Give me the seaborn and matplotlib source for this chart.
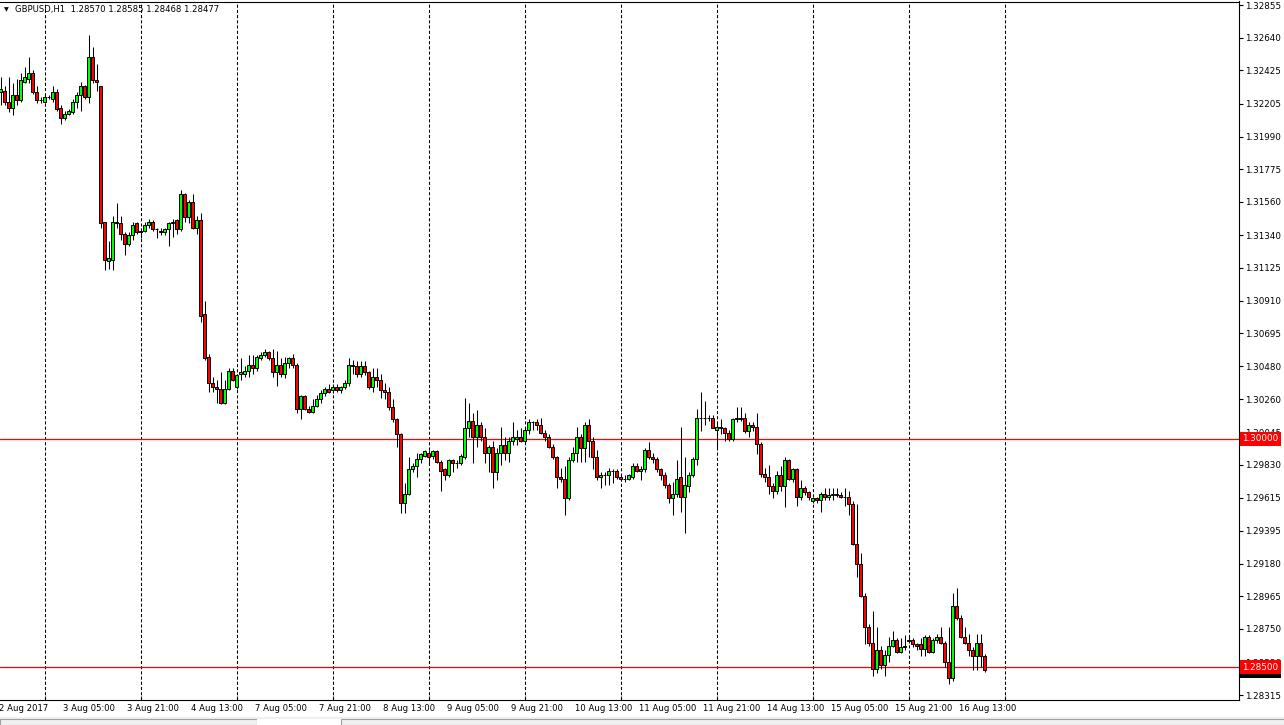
import numpy as np
import pandas as pd
import seaborn as sns
import matplotlib
matplotlib.use("Agg")
import matplotlib.pyplot as plt
from matplotlib.transforms import blended_transform_factory, offset_copy
from matplotlib.patches import Rectangle

sns.set_style("white")
plt.rcParams['font.family'] = ['DejaVu Sans']

# ---------------- data (GBPUSD H1, 2 Aug 13:00 -> 16 Aug 19:00) ----------------
opens = [
    1.3228, 1.3229, 1.3222, 1.3218, 1.3226, 1.3223, 1.3235, 1.3237, 1.3241, 1.3228,
    1.3223, 1.3222, 1.3225, 1.3224, 1.3228, 1.3218, 1.3211, 1.3214, 1.3215, 1.3222,
    1.3226, 1.3232, 1.3225, 1.3251, 1.3236, 1.3232, 1.3143, 1.3117, 1.3118, 1.3143,
    1.3142, 1.3135, 1.3128, 1.3134, 1.3142, 1.3136, 1.3137, 1.3141, 1.3143, 1.3138,
    1.3137, 1.3136, 1.3138, 1.3142, 1.3144, 1.3138, 1.3161, 1.3146, 1.3156, 1.3139,
    1.3144, 1.3082, 1.3054, 1.3037, 1.3034, 1.3033, 1.3024, 1.3033, 1.3045, 1.3034,
    1.3043, 1.3043, 1.3045, 1.3049, 1.3047, 1.3053, 1.3055, 1.3057, 1.3053, 1.3044,
    1.3049, 1.3043, 1.3050, 1.3053, 1.3049, 1.3020, 1.3028, 1.3020, 1.3018, 1.3022,
    1.3026, 1.3030, 1.3033, 1.3032, 1.3034, 1.3032, 1.3034, 1.3037, 1.3049, 1.3048,
    1.3043, 1.3048, 1.3044, 1.3034, 1.3041, 1.3039, 1.3032, 1.3031, 1.3021, 1.3013,
    1.3003, 1.2958, 1.2964, 1.2980, 1.2982, 1.2987, 1.2989, 1.2991, 1.2989, 1.2992,
    1.2985, 1.2980, 1.2976, 1.2986, 1.2984, 1.2984, 1.2988, 1.3007, 1.3012, 1.3001,
    1.3009, 1.3001, 1.2991, 1.2995, 1.2978, 1.2991, 1.2996, 1.2991, 1.2999, 1.3000,
    1.3001, 1.2999, 1.3006, 1.3011, 1.3011, 1.3009, 1.3004, 1.3001, 1.2995, 1.2988,
    1.2975, 1.2974, 1.2961, 1.2986, 1.2991, 1.3001, 1.2994, 1.3009, 1.2999, 1.2988,
    1.2975, 1.2976, 1.2976, 1.2979, 1.2979, 1.2975, 1.2974, 1.2974, 1.2975, 1.2982,
    1.2979, 1.2980, 1.2993, 1.2988, 1.2987, 1.2980, 1.2976, 1.2970, 1.2961, 1.2964,
    1.2975, 1.2962, 1.2969, 1.2976, 1.2987, 1.3014, 1.3014, 1.3014, 1.3014, 1.3006,
    1.3008, 1.3007, 1.3004, 1.3000, 1.3013, 1.3014, 1.3014, 1.3005, 1.3009, 1.3008,
    1.2997, 1.2977, 1.2975, 1.2969, 1.2966, 1.2976, 1.2969, 1.2986, 1.2974, 1.2980,
    1.2962, 1.2968, 1.2965, 1.2959, 1.2961, 1.2960, 1.2964, 1.2962, 1.2963, 1.2964,
    1.2963, 1.2962, 1.2962, 1.2957, 1.2931, 1.2918, 1.2897, 1.2876, 1.2866, 1.2849,
    1.2861, 1.2851, 1.2858, 1.2864, 1.2868, 1.2860, 1.2863, 1.2867, 1.2868, 1.2865,
    1.2865, 1.2862, 1.2870, 1.2860, 1.2868, 1.2870, 1.2866, 1.2853, 1.2843, 1.2890,
    1.2882, 1.2870, 1.2866, 1.2861, 1.2857, 1.2866, 1.28570,
]
highs = [
    1.3238, 1.3232, 1.3238, 1.3234, 1.3237, 1.3241, 1.3245, 1.3251, 1.3243, 1.3232,
    1.3225, 1.3226, 1.3226, 1.3232, 1.3230, 1.3220, 1.3216, 1.3217, 1.3224, 1.3228,
    1.3235, 1.3233, 1.3266, 1.3258, 1.3247, 1.3232, 1.3143, 1.3130, 1.3147, 1.3155,
    1.3147, 1.3136, 1.3136, 1.3143, 1.3143, 1.3139, 1.3143, 1.3145, 1.3144, 1.3139,
    1.3139, 1.3139, 1.3143, 1.3145, 1.3145, 1.3164, 1.3162, 1.3157, 1.3161, 1.3147,
    1.3149, 1.3091, 1.3056, 1.3041, 1.3039, 1.3044, 1.3039, 1.3047, 1.3047, 1.3043,
    1.3053, 1.3048, 1.3055, 1.3055, 1.3055, 1.3057, 1.3059, 1.3058, 1.3059, 1.3058,
    1.3053, 1.3054, 1.3054, 1.3056, 1.3050, 1.3029, 1.3029, 1.3022, 1.3026, 1.3029,
    1.3032, 1.3034, 1.3036, 1.3036, 1.3036, 1.3035, 1.3039, 1.3053, 1.3052, 1.3051,
    1.3051, 1.3051, 1.3045, 1.3047, 1.3047, 1.3043, 1.3037, 1.3034, 1.3026, 1.3014,
    1.3004, 1.2971, 1.2988, 1.2984, 1.2991, 1.2991, 1.2993, 1.2993, 1.2993, 1.2993,
    1.2986, 1.2981, 1.2987, 1.2987, 1.2986, 1.2990, 1.3027, 1.3024, 1.3017, 1.3019,
    1.3011, 1.3007, 1.2996, 1.2999, 1.2994, 1.3008, 1.3001, 1.3001, 1.3011, 1.3006,
    1.3007, 1.3008, 1.3013, 1.3012, 1.3013, 1.3014, 1.3006, 1.3003, 1.2997, 1.2989,
    1.2981, 1.2982, 1.2988, 1.2995, 1.3008, 1.3003, 1.3011, 1.3013, 1.3001, 1.2993,
    1.2978, 1.2978, 1.2981, 1.2980, 1.2980, 1.2976, 1.2976, 1.2977, 1.2984, 1.2984,
    1.2982, 1.2994, 1.2998, 1.2991, 1.2988, 1.2981, 1.2978, 1.2971, 1.2972, 1.2986,
    1.3008, 1.2988, 1.2978, 1.2988, 1.3020, 1.3031, 1.3025, 1.3016, 1.3016, 1.3011,
    1.3013, 1.3008, 1.3006, 1.3014, 1.3021, 1.3021, 1.3017, 1.3011, 1.3011, 1.3017,
    1.2998, 1.2981, 1.2983, 1.2971, 1.2979, 1.2982, 1.2988, 1.2987, 1.2981, 1.2981,
    1.2973, 1.2969, 1.2966, 1.2962, 1.2962, 1.2965, 1.2968, 1.2968, 1.2968, 1.2968,
    1.2965, 1.2968, 1.2966, 1.2959, 1.2957, 1.2925, 1.2899, 1.2878, 1.2887, 1.2876,
    1.2864, 1.2861, 1.2870, 1.2874, 1.2869, 1.2869, 1.2871, 1.2870, 1.2869, 1.2866,
    1.2869, 1.2871, 1.2871, 1.2869, 1.2872, 1.2876, 1.2867, 1.2876, 1.2899, 1.2902,
    1.2884, 1.2876, 1.2872, 1.2863, 1.2872, 1.2872, 1.28585,
]
lows = [
    1.3220, 1.3220, 1.3215, 1.3213, 1.3220, 1.3222, 1.3234, 1.3234, 1.3227, 1.3221,
    1.3221, 1.3221, 1.3224, 1.3222, 1.3216, 1.3207, 1.3210, 1.3213, 1.3214, 1.3218,
    1.3216, 1.3224, 1.3221, 1.3234, 1.3229, 1.3139, 1.3111, 1.3112, 1.3111, 1.3139,
    1.3131, 1.3121, 1.3127, 1.3131, 1.3135, 1.3132, 1.3136, 1.3139, 1.3137, 1.3132,
    1.3134, 1.3134, 1.3127, 1.3133, 1.3135, 1.3137, 1.3143, 1.3142, 1.3138, 1.3135,
    1.3077, 1.3052, 1.3031, 1.3031, 1.3024, 1.3023, 1.3023, 1.3032, 1.3038, 1.3033,
    1.3039, 1.3041, 1.3041, 1.3043, 1.3045, 1.3052, 1.3054, 1.3052, 1.3041, 1.3035,
    1.3041, 1.3040, 1.3047, 1.3047, 1.3017, 1.3013, 1.3019, 1.3017, 1.3017, 1.3021,
    1.3024, 1.3028, 1.3030, 1.3030, 1.3031, 1.3030, 1.3033, 1.3035, 1.3043, 1.3041,
    1.3041, 1.3042, 1.3033, 1.3031, 1.3034, 1.3027, 1.3026, 1.3019, 1.3011, 1.2995,
    1.2951, 1.2951, 1.2963, 1.2978, 1.2975, 1.2984, 1.2988, 1.2984, 1.2987, 1.2984,
    1.2966, 1.2973, 1.2975, 1.2978, 1.2981, 1.2983, 1.2987, 1.3001, 1.2984, 1.2995,
    1.2999, 1.2984, 1.2978, 1.2968, 1.2973, 1.2983, 1.2986, 1.2985, 1.2996, 1.2996,
    1.2998, 1.2997, 1.3003, 1.3006, 1.3006, 1.3003, 1.2999, 1.2994, 1.2987, 1.2968,
    1.2972, 1.2950, 1.2960, 1.2985, 1.2985, 1.2985, 1.2985, 1.2988, 1.2980, 1.2973,
    1.2968, 1.2970, 1.2970, 1.2971, 1.2974, 1.2973, 1.2972, 1.2973, 1.2974, 1.2978,
    1.2973, 1.2978, 1.2987, 1.2984, 1.2978, 1.2973, 1.2968, 1.2958, 1.2950, 1.2962,
    1.2952, 1.2938, 1.2965, 1.2975, 1.2983, 1.3005, 1.3009, 1.3012, 1.3007, 1.2994,
    1.3003, 1.2999, 1.2999, 1.2999, 1.3011, 1.3012, 1.3004, 1.3001, 1.3005, 1.2990,
    1.2975, 1.2972, 1.2964, 1.2961, 1.2964, 1.2966, 1.2955, 1.2973, 1.2972, 1.2956,
    1.2960, 1.2963, 1.2960, 1.2958, 1.2958, 1.2952, 1.2960, 1.2960, 1.2960, 1.2962,
    1.2961, 1.2956, 1.2950, 1.2930, 1.2909, 1.2896, 1.2865, 1.2864, 1.2844, 1.2846,
    1.2849, 1.2844, 1.2853, 1.2863, 1.2859, 1.2859, 1.2861, 1.2866, 1.2863, 1.2861,
    1.2857, 1.2857, 1.2859, 1.2859, 1.2866, 1.2865, 1.2850, 1.2839, 1.2841, 1.2881,
    1.2869, 1.2865, 1.2857, 1.2848, 1.2848, 1.2850, 1.28468,
]
closes = [
    1.3230, 1.3222, 1.3218, 1.3226, 1.3223, 1.3236, 1.3238, 1.3241, 1.3228, 1.3223,
    1.3223, 1.3225, 1.3225, 1.3228, 1.3217, 1.3211, 1.3214, 1.3216, 1.3222, 1.3226,
    1.3232, 1.3225, 1.3251, 1.3236, 1.3235, 1.3142, 1.3118, 1.3119, 1.3143, 1.3142,
    1.3135, 1.3128, 1.3134, 1.3141, 1.3136, 1.3137, 1.3141, 1.3143, 1.3138, 1.3138,
    1.3136, 1.3138, 1.3142, 1.3143, 1.3138, 1.3161, 1.3146, 1.3156, 1.3139, 1.3144,
    1.3081, 1.3053, 1.3037, 1.3034, 1.3033, 1.3024, 1.3033, 1.3045, 1.3039, 1.3042,
    1.3044, 1.3045, 1.3049, 1.3047, 1.3054, 1.3055, 1.3057, 1.3053, 1.3044, 1.3049,
    1.3043, 1.3050, 1.3053, 1.3049, 1.3020, 1.3028, 1.3020, 1.3018, 1.3022, 1.3026,
    1.3030, 1.3033, 1.3031, 1.3034, 1.3032, 1.3034, 1.3037, 1.3049, 1.3048, 1.3043,
    1.3048, 1.3044, 1.3034, 1.3041, 1.3039, 1.3032, 1.3031, 1.3021, 1.3013, 1.3003,
    1.2958, 1.2964, 1.2980, 1.2982, 1.2987, 1.2990, 1.2992, 1.2988, 1.2992, 1.2985,
    1.2979, 1.2976, 1.2986, 1.2984, 1.2984, 1.2989, 1.3007, 1.3012, 1.3001, 1.3009,
    1.3001, 1.2991, 1.2995, 1.2978, 1.2991, 1.2996, 1.2991, 1.2999, 1.3001, 1.3001,
    1.2999, 1.3006, 1.3011, 1.3011, 1.3009, 1.3004, 1.3001, 1.2995, 1.2988, 1.2975,
    1.2974, 1.2961, 1.2986, 1.2991, 1.3001, 1.2994, 1.3009, 1.2999, 1.2988, 1.2975,
    1.2976, 1.2976, 1.2979, 1.2979, 1.2975, 1.2974, 1.2974, 1.2976, 1.2982, 1.2979,
    1.2980, 1.2993, 1.2988, 1.2987, 1.2980, 1.2976, 1.2970, 1.2961, 1.2964, 1.2974,
    1.2962, 1.2970, 1.2976, 1.2987, 1.3014, 1.3014, 1.3014, 1.3014, 1.3007, 1.3008,
    1.3007, 1.3004, 1.3000, 1.3013, 1.3014, 1.3013, 1.3005, 1.3009, 1.3008, 1.2997,
    1.2977, 1.2975, 1.2969, 1.2966, 1.2976, 1.2969, 1.2986, 1.2974, 1.2980, 1.2962,
    1.2968, 1.2965, 1.2962, 1.2961, 1.2960, 1.2964, 1.2962, 1.2963, 1.2964, 1.2963,
    1.2962, 1.2962, 1.2957, 1.2931, 1.2918, 1.2897, 1.2876, 1.2866, 1.2849, 1.2861,
    1.2851, 1.2858, 1.2864, 1.2868, 1.2860, 1.2863, 1.2864, 1.2868, 1.2865, 1.2864,
    1.2862, 1.2870, 1.2860, 1.2868, 1.2870, 1.2866, 1.2853, 1.2843, 1.2890, 1.2882,
    1.2870, 1.2866, 1.2861, 1.2857, 1.2866, 1.2857, 1.28477,
]

time_labels = ["2 Aug 2017", "3 Aug 05:00", "3 Aug 21:00", "4 Aug 13:00",
               "7 Aug 05:00", "7 Aug 21:00", "8 Aug 13:00", "9 Aug 05:00",
               "9 Aug 21:00", "10 Aug 13:00", "11 Aug 05:00", "11 Aug 21:00",
               "14 Aug 13:00", "15 Aug 05:00", "15 Aug 21:00", "16 Aug 13:00"]
price_ticks = [1.32855, 1.32640, 1.32425, 1.32205, 1.31990, 1.31775, 1.31560,
               1.31340, 1.31125, 1.30910, 1.30695, 1.30480, 1.30260, 1.30045,
               1.29830, 1.29615, 1.29395, 1.29180, 1.28965, 1.28750, 1.28530,
               1.28315]
level_lines = [1.30000, 1.28500]
last_price = 1.28477
header_text = "GBPUSD,H1  1.28570 1.28585 1.28468 1.28477"

df = pd.DataFrame({"open": opens, "high": highs, "low": lows, "close": closes})
df["bar"] = np.arange(len(df))
df["bull"] = df["close"] >= df["open"]

# ---------------- figure layout ----------------
W, H = 1284, 725
fig = plt.figure(figsize=(W / 100, H / 100), dpi=100)
fig.patch.set_facecolor("white")
ax_top_px, ax_bot_px, ax_right_px = 1.5, 700.0, 1239.0
ax = fig.add_axes([0, (H - ax_bot_px) / H, ax_right_px / W, (ax_bot_px - ax_top_px) / H])
ax.set_facecolor("white")

px_per_unit = 15200.0            # vertical scale
ref_y, ref_price = 439.0, 1.30000
def price_at(ypx):
    return ref_price + (ref_y - ypx) / px_per_unit

ax.set_ylim(price_at(ax_bot_px), price_at(ax_top_px))
bar_px = 4.0
xmin = -0.125
ax.set_xlim(xmin, xmin + ax_right_px / bar_px)

# day separators (midnight bars) -> dashed grid
day_bars = [11 + 24 * k for k in range(11)]
for b in day_bars:
    ax.axvline(b, color="black", lw=0.75, ls=(0, (3, 2)), zorder=1)

# level lines
for lv in level_lines:
    ax.axhline(lv, color="#ff0000", lw=0.9, zorder=1.5)

# candles
ax.vlines(df["bar"], df["low"], df["high"], color="black", lw=0.75, zorder=3)
body_bottom = np.minimum(df["open"], df["close"])
body_height = np.abs(df["close"] - df["open"])
colors = np.where(df["bull"], "#00ff00", "#ff0000")
ax.bar(df["bar"], body_height, bottom=body_bottom, width=0.6,
       color=colors, edgecolor="black", linewidth=0.7, zorder=4)

# ---------------- axes styling ----------------
for s in ["top", "right", "bottom"]:
    ax.spines[s].set_color("black")
    ax.spines[s].set_linewidth(0.8)
ax.spines["left"].set_visible(False)

ax.yaxis.tick_right()
ax.set_yticks(price_ticks)
ax.set_yticklabels([f"{p:.5f}" for p in price_ticks])
ax.tick_params(axis="y", direction="out", length=3, width=0.8, pad=1.5,
               labelsize=6.3, colors="black", left=False, right=True)

ax.set_xticks(day_bars)
ax.set_xticklabels([])
ax.tick_params(axis="x", direction="in", length=3, width=0.8, bottom=True, top=False)

# time labels below the axis
lab_tr = blended_transform_factory(ax.transData, fig.transFigure)
for k, lab in enumerate(time_labels):
    ax.text(16 * k - 0.4, (H - 708.5) / H, lab, transform=lab_tr, ha="left",
            va="center", fontsize=6.1, color="black", clip_on=False)

# price boxes on the right axis
box_tr = offset_copy(blended_transform_factory(ax.transAxes, ax.transData),
                     fig=fig, x=3.5, y=0, units="dots")
ax.text(1.0, last_price, f"{last_price:.5f}", transform=box_tr, ha="left", va="center",
        fontsize=6.3, color="white", zorder=20, clip_on=False,
        bbox=dict(boxstyle="square,pad=0.3", fc="black", ec="none"))
for lv in level_lines:
    ax.text(1.0, lv, f"{lv:.5f}", transform=box_tr, ha="left", va="center",
            fontsize=6.3, color="white", zorder=21, clip_on=False,
            bbox=dict(boxstyle="square,pad=0.3", fc="#ff0000", ec="none"))

# header
fig.text(4 / W, 1 - 9.5 / H, "\u25BC", fontsize=4.5, ha="left", va="center", color="black")
fig.text(15 / W, 1 - 9.5 / H, header_text, fontsize=6.1, ha="left", va="center", color="black")

# bottom tab strip
fig.add_artist(Rectangle((0, 0), 1, (H - 717) / H, transform=fig.transFigure,
                         fc="#f0f0f0", ec="none", zorder=0))
fig.add_artist(Rectangle((0, 0), 257 / W, (H - 719) / H, transform=fig.transFigure,
                         fc="#f0f0f0", ec="#a0a0a0", lw=0.8, zorder=1))
fig.add_artist(Rectangle((257 / W, 0), 84 / W, (H - 719) / H, transform=fig.transFigure,
                         fc="white", ec="none", zorder=1))
fig.add_artist(Rectangle((341 / W, 0), 1, (H - 719) / H, transform=fig.transFigure,
                         fc="#f0f0f0", ec="#a0a0a0", lw=0.8, zorder=1))

fig.savefig("out.png", dpi=100, facecolor="white")
